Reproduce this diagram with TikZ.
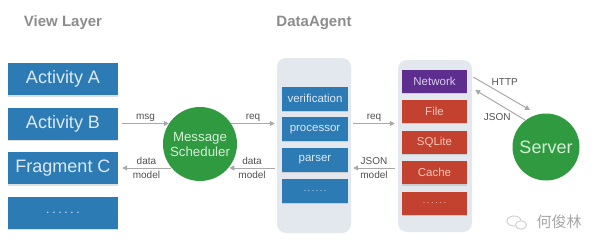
\documentclass[tikz,border=0pt]{standalone}
\usepackage{fontspec}
\setmainfont{Liberation Sans}
\newfontfamily\cjk{Noto Sans CJK SC}
\usetikzlibrary{arrows.meta,shadows}

\definecolor{viewblue}{HTML}{2C7BB5}
\definecolor{boxtext}{HTML}{DDE9F4}
\definecolor{panelgray}{HTML}{E3E8EE}
\definecolor{netpurple}{HTML}{5D2E8E}
\definecolor{nettext}{HTML}{D9CDEA}
\definecolor{storered}{HTML}{C2412F}
\definecolor{storetext}{HTML}{F4C6B9}
\definecolor{hubgreen}{HTML}{2F9A40}
\definecolor{hubtext}{HTML}{D6EED8}
\definecolor{arrowgray}{HTML}{A9A9A9}
\definecolor{titlegray}{HTML}{8C8C8C}
\definecolor{labelgray}{HTML}{505050}

% row of six spaced dots: font size, gap
\newcommand{\dotrow}[2]{{\fontsize{#1}{#1}\selectfont.\kern#2.\kern#2.\kern#2.\kern#2.\kern#2.}}

\begin{document}
\begin{tikzpicture}[x=1pt,y=-1pt,
		layer/.style={font=\bfseries\fontsize{15}{15}\selectfont, text=titlegray},
		viewbox/.style={rectangle, fill=viewblue, text=boxtext, minimum width=110pt, minimum height=32pt, inner sep=0pt,
			font=\fontsize{18}{18}\selectfont, drop shadow={shadow xshift=0pt, shadow yshift=-1.5pt, opacity=0.25}},
		cellbox/.style={rectangle, minimum width=66pt, minimum height=24pt, inner sep=0pt,
			font=\fontsize{11.5}{12}\selectfont, drop shadow={shadow xshift=0pt, shadow yshift=-1.2pt, opacity=0.25}},
		panel/.style={rectangle, rounded corners=9pt, fill=panelgray, inner sep=0pt},
		hub/.style={circle, fill=hubgreen, text=hubtext, inner sep=0pt, align=center},
		flow/.style={draw=arrowgray, line width=1pt, -{Triangle[length=5pt,width=5pt]}},
		lbl/.style={font=\fontsize{10}{14}\selectfont, text=labelgray, align=center, inner sep=1pt}]
	\useasboundingbox (0,0) rectangle (600,249);

	\node[layer] (viewtitle) at (63,23) {View Layer};
	\node[layer] (agenttitle) at (314,23) {DataAgent};

	\foreach \i/\txt in {0/Activity A,1/Activity B,2/Fragment C,3/{\dotrow{12}{2.7pt}}}{
		\node[viewbox] (view\i) at (63,79+44.5*\i) {\txt};
	}

	\node[hub, minimum size=74pt, font=\fontsize{13.3}{15}\selectfont] (sched) at (200,144) {Message\\Scheduler};

	\node[panel, minimum width=74pt, minimum height=175pt] (agent) at (314,145.5) {};
	\foreach \i/\txt in {0/verification,1/processor,2/parser,3/{\dotrow{9}{1.5pt}}}{
		\node[cellbox, fill=viewblue, text=boxtext] (agent\i) at (315,98.5+30.7*\i) {\txt};
	}

	\node[panel, minimum width=74pt, minimum height=172pt] (storage) at (435,146) {};
	\node[cellbox, fill=netpurple, text=nettext, minimum width=65pt, minimum height=23pt] (net) at (434.5,81) {Network};
	\foreach \i/\txt in {1/File,2/SQLite,3/Cache,4/{\dotrow{9}{1.7pt}}}{
		\node[cellbox, fill=storered, text=storetext, minimum width=65pt, minimum height=23pt] (disk\i) at (434.5,81+30.6*\i) {\txt};
	}

	\node[hub, minimum size=67pt, font=\fontsize{18}{18}\selectfont] (server) at (546,147) {Server};

	\draw[flow] ([xshift=4pt]view1.east) -- (view1.east -| sched.147) node[lbl, midway, above] {msg};
	\draw[flow] (view2.east -| sched.218) -- ([xshift=4pt]view2.east) node[lbl, midway] {data\\model};
	\draw[flow] (view1.east -| sched.33) -- ([xshift=-2pt]view1.east -| agent.west) node[lbl, midway, above] {req};
	\draw[flow] ([xshift=-2pt]view2.east -| agent.west) -- (view2.east -| sched.322) node[lbl, midway] {data\\model};
	\draw[flow] ([xshift=2pt]view1.east -| agent.east) -- ([xshift=-3pt]view1.east -| storage.west) node[lbl, midway, above] {req};
	\draw[flow] ([xshift=-3pt]view2.east -| storage.west) -- ([xshift=2pt]view2.east -| agent.east) node[lbl, midway] {JSON\\model};
	\draw[flow] ([xshift=6pt,yshift=4pt]net.east) -- ([xshift=-16pt,yshift=37pt]server.center) node[lbl, pos=0.3, anchor=south west] {HTTP};
	\draw[flow] ([xshift=-21pt,yshift=27pt]server.center) -- ([xshift=8pt,yshift=-9pt]net.east) node[lbl, pos=0.26, anchor=north east] {JSON};

	\draw[gray!35, line width=1pt] (514,221) ellipse (7 and 5);
	\draw[gray!35, line width=1pt, fill=white] (521,225) ellipse (5.5 and 4.2);
	\node[text=gray!70, font=\cjk\fontsize{15}{15}\selectfont] (mark) at (559,222) {何俊林};
\end{tikzpicture}
\end{document}
